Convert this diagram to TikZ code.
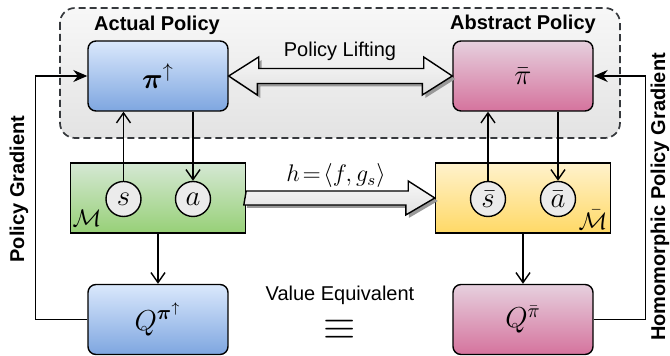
\documentclass[tikz,border=0pt]{standalone}
\usepackage{amsmath}
\usepackage{fontspec}
\setmainfont{Liberation Sans}
\usetikzlibrary{arrows.meta,shadows}

\definecolor{blueTop}{HTML}{DAE8FC}
\definecolor{blueBot}{HTML}{7EA6E0}
\definecolor{pinkTop}{HTML}{E6D0DE}
\definecolor{pinkBot}{HTML}{D5739D}
\definecolor{greenTop}{HTML}{D5E8D4}
\definecolor{greenBot}{HTML}{97D077}
\definecolor{yellowTop}{HTML}{FFF2CC}
\definecolor{yellowBot}{HTML}{FFD966}
\definecolor{groupLine}{HTML}{36393D}

\tikzset{> = {Straight Barb[length=5pt,width=7pt]}, every picture/.style={line width=0.7pt}}
\tikzset{
  polbox/.style={draw, rounded corners=4pt, minimum width=70pt, minimum height=35pt, font=\Large},
  mdpbox/.style={draw, minimum width=87.5pt, minimum height=35pt},
  statenode/.style={circle, draw, fill=black!8, minimum size=17.5pt, inner sep=0pt, font=\Large},
  lbl/.style={inner sep=0.5pt},
  bluefill/.style={top color=blueTop, bottom color=blueBot},
  pinkfill/.style={top color=pinkTop, bottom color=pinkBot},
  blockarr/.style={draw, top color=black!3, bottom color=black!12,
    drop shadow={shadow xshift=1.5pt, shadow yshift=-1.5pt, fill=black!40, opacity=1}},
  feedback/.style={-{Stealth[length=7pt,width=6pt]}}
}

\begin{document}
\begin{tikzpicture}[x=0.5pt,y=-0.5pt]
\useasboundingbox (0,0) rectangle (670,356);

% group of the two policies
\draw[groupLine, line width=0.85pt, dash pattern=on 3.5pt off 2pt, rounded corners=7.5pt,
  top color=black!3, bottom color=black!11] (60,8) rectangle (620,138);
\node[lbl, font=\bfseries] (ttlA) at (157,25) {Actual Policy};
\node[lbl, font=\bfseries] (ttlB) at (523,24) {Abstract Policy};

\node[polbox, bluefill] (pol) at (158,76) {$\boldsymbol{\pi}^{\uparrow}$};
\node[polbox, pinkfill] (abs) at (523,76) {$\bar{\pi}$};
\node[polbox, bluefill] (qa) at (158,319.5) {$Q^{\boldsymbol{\pi}^{\uparrow}}$};
\node[polbox, pinkfill] (qb) at (523,319.5) {$Q^{\bar{\pi}}$};

\node[mdpbox, top color=greenTop, bottom color=greenBot] (mdp) at (158,198) {};
\node[mdpbox, top color=yellowTop, bottom color=yellowBot] (mdpb) at (523,198) {};
\node[lbl] (mlbl) at (87,218) {\fontsize{13}{15}\selectfont$\mathcal{M}$};
\node[lbl] (mblbl) at (593,220) {\fontsize{13}{15}\selectfont$\bar{\mathcal{M}}$};

\node[statenode] (s) at (123.5,199) {$s$};
\node[statenode] (a) at (193,199) {$a$};
\node[statenode] (sb) at (488,199) {$\bar{s}$};
\node[statenode] (ab) at (558,199) {$\bar{a}$};

% block arrows
\path[blockarr] (pol.east) -- ++(30,-19) -- ++(0,11.5) -- ++(165,0) -- ++(0,-11.5) -- (abs.west)
  -- ++(-30,19) -- ++(0,-11.5) -- ++(-165,0) -- ++(0,11.5) -- cycle;
\node[lbl] (lift) at (340,51) {Policy Lifting};

\path[blockarr] (mdp.east) ++(0,-7) -- ++(162,0) -- ++(0,-10) -- (mdpb.west)
  -- ++(-29,17) -- ++(0,-10) -- ++(-162,0) -- cycle;
\node[lbl] (hmap) at (336,176) {\large$h\!=\!\langle f, g_s\rangle$};

\node[lbl] (veq) at (340,295) {Value Equivalent};
\node[lbl] (eqv) at (340,330) {\fontsize{20}{20}\selectfont$\equiv$};

\begin{scope}[every edge/.style={draw}]
    \path [->] (s) edge (s |- pol.south);
    \path [->] (pol.south -| a) edge (a);
    \path [->] (sb) edge (sb |- abs.south);
    \path [->] (abs.south -| ab) edge (ab);
    \path [->] (mdp) edge (qa);
    \path [->] (mdpb) edge (qb);
\end{scope}

% gradient feedback
\draw[feedback] (qa.west) -- ++(-52,0) |- (pol.west);
\draw[feedback] (qb.east) -- ++(52,0) |- (abs.east);
\node[lbl, font=\bfseries, rotate=90] (pg) at (19,189) {Policy Gradient};
\node[lbl, font=\bfseries, rotate=90] (hpg) at (660,197) {Homomorphic Policy Gradient};
\end{tikzpicture}
\end{document}
